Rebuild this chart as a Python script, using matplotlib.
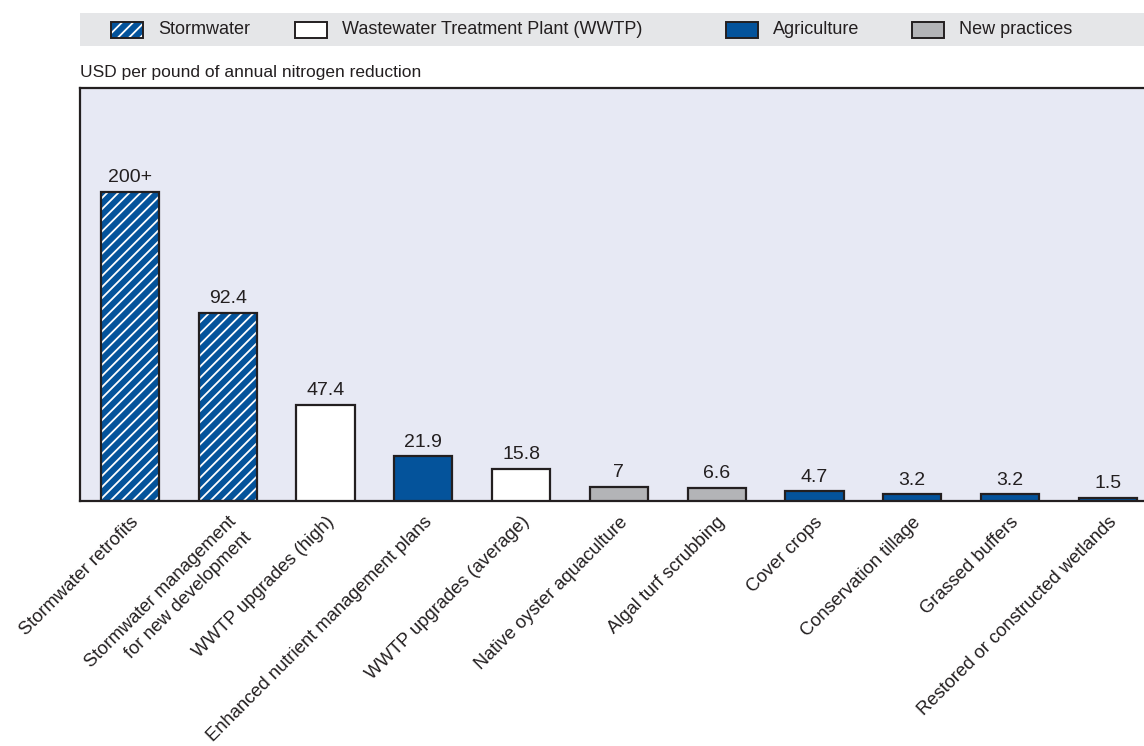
import matplotlib
matplotlib.use("Agg")
import matplotlib.pyplot as plt
from matplotlib.patches import Rectangle

plt.rcParams['font.family'] = ['Liberation Sans', 'DejaVu Sans']
plt.rcParams['hatch.linewidth'] = 1.3

categories = ["Stormwater retrofits", "Stormwater management\nfor new development",
              "WWTP upgrades (high)", "Enhanced nutrient management plans",
              "WWTP upgrades (average)", "Native oyster aquaculture",
              "Algal turf scrubbing", "Cover crops", "Conservation tillage",
              "Grassed buffers", "Restored or constructed wetlands"]
# displayed bar heights (first bar truncated in the original chart)
values = [152, 92.4, 47.4, 21.9, 15.8, 7, 6.6, 4.7, 3.2, 3.2, 1.5]
value_labels = ["200+", "92.4", "47.4", "21.9", "15.8", "7", "6.6", "4.7", "3.2", "3.2", "1.5"]
groups = ["Stormwater", "Stormwater", "WWTP", "Agriculture", "WWTP", "New",
          "New", "Agriculture", "Agriculture", "Agriculture", "Agriculture"]
legend_names = ["Stormwater", "Wastewater Treatment Plant (WWTP)", "Agriculture", "New practices"]

BLUE = "#04539b"
GRAY = "#b3b4b7"
EDGE = "#231f20"
style = {
    "Stormwater": dict(color=BLUE, hatch="///"),
    "WWTP": dict(color="white", hatch=None),
    "Agriculture": dict(color=BLUE, hatch=None),
    "New": dict(color=GRAY, hatch=None),
}

W, H = 1144, 746
fig = plt.figure(figsize=(W / 100, H / 100), dpi=100)
ax = fig.add_axes([80 / W, (H - 501) / H, 1 - 80 / W, (501 - 88) / H])
ax.set_facecolor("#e7e9f4")

x = list(range(len(categories)))
bw = 0.595
for xi, v, g in zip(x, values, groups):
    st = style[g]
    if st["hatch"]:
        ax.bar(xi, v, width=bw, color=st["color"], edgecolor="white", hatch=st["hatch"],
               linewidth=0, zorder=2)
        ax.bar(xi, v, width=bw, fill=False, edgecolor=EDGE, linewidth=1.6, zorder=3)
    else:
        ax.bar(xi, v, width=bw, color=st["color"], edgecolor=EDGE, linewidth=1.6, zorder=3)

for xi, v, lab in zip(x, values, value_labels):
    ax.annotate(lab, (xi, v), xytext=(0, 4), textcoords="offset points",
                ha="center", va="bottom", fontsize=14, color=EDGE)

ax.set_xlim(-0.51, 10.37)
ax.set_ylim(0, 203)
ax.set_yticks([])
ax.set_xticks(x)
ax.set_xticklabels(categories, rotation=45, ha="right", rotation_mode="anchor",
                   fontsize=13.2, color=EDGE, linespacing=1.4)
ax.tick_params(axis="x", length=0, pad=9)
for s in ["left", "top", "bottom"]:
    ax.spines[s].set_color(EDGE)
    ax.spines[s].set_linewidth(1.6)
ax.spines["right"].set_visible(False)

# y-axis caption
fig.text(80 / W, 1 - 72 / H, "USD per pound of annual nitrogen reduction",
         ha="left", va="center", fontsize=12.5, color=EDGE)

# legend band
fig.patches.append(Rectangle((80 / W, 1 - 46 / H), 1 - 80 / W, 33 / H,
                             transform=fig.transFigure, facecolor="#e5e6e8",
                             edgecolor="none", zorder=0))
leg_x = [111, 295, 726, 912]
leg_keys = ["Stormwater", "WWTP", "Agriculture", "New"]
for lx, key, name in zip(leg_x, leg_keys, legend_names):
    st = style[key]
    r = Rectangle((lx / W, 1 - 38 / H), 32 / W, 16 / H, transform=fig.transFigure,
                  facecolor=st["color"], edgecolor="white" if st["hatch"] else EDGE,
                  hatch=st["hatch"], linewidth=0 if st["hatch"] else 1.4, zorder=2)
    fig.patches.append(r)
    if st["hatch"]:
        fig.patches.append(Rectangle((lx / W, 1 - 38 / H), 32 / W, 16 / H,
                                     transform=fig.transFigure, fill=False,
                                     edgecolor=EDGE, linewidth=1.4, zorder=3))
    fig.text((lx + 47) / W, 1 - 30 / H, name, ha="left", va="center",
             fontsize=13, color=EDGE)

fig.savefig("out.png", dpi=100)
